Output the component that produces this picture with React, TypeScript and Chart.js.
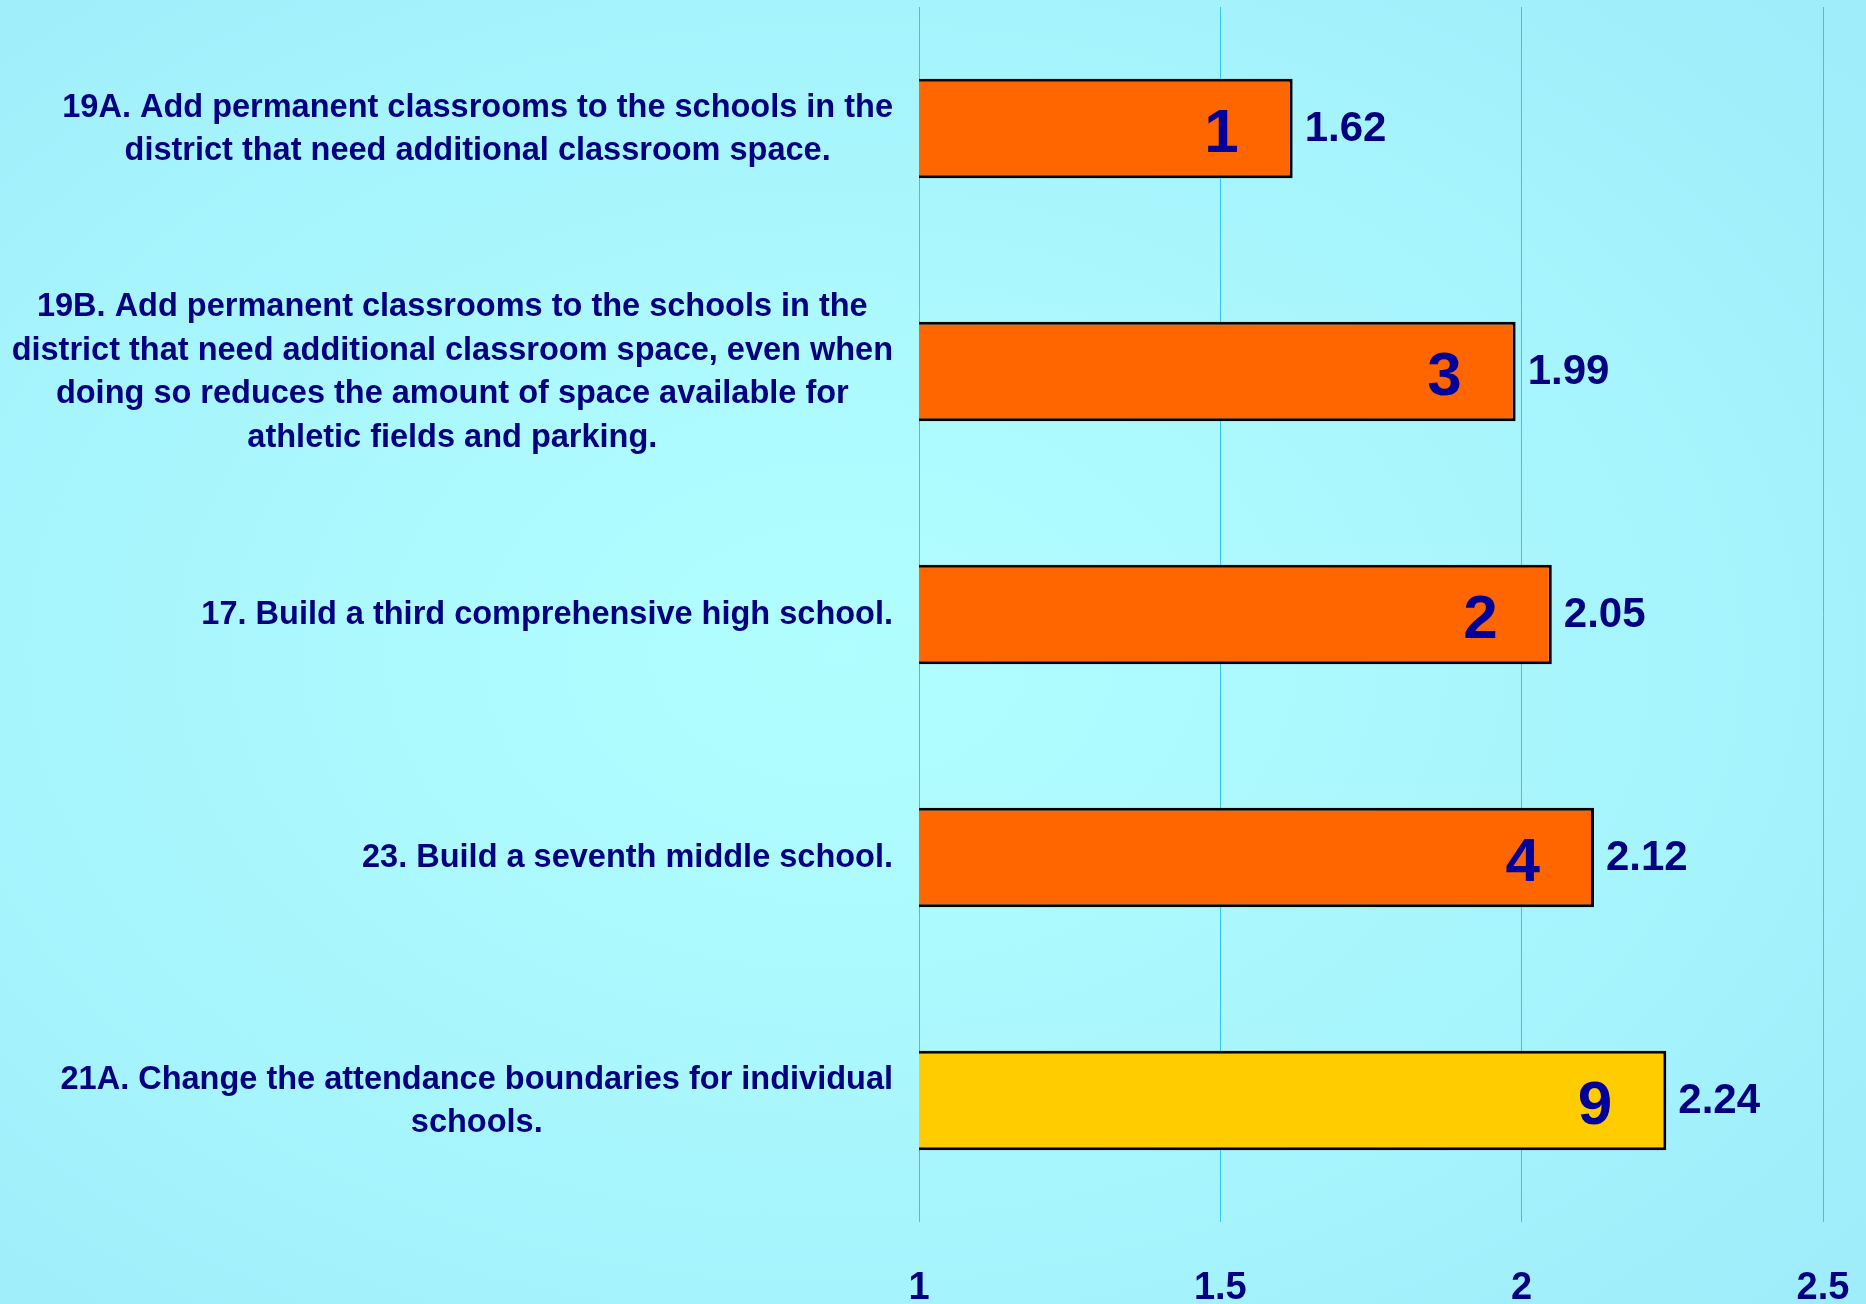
import React, { useEffect, useRef } from "react";
import { Chart, registerables } from "chart.js";

Chart.register(...registerables);

const categories: string[][] = [
  ["19A. Add permanent classrooms to the schools in the", "district that need additional classroom space."],
  [
    "19B. Add permanent classrooms to the schools in the",
    "district that need additional classroom space, even when",
    "doing so reduces the amount of space available for",
    "athletic fields and parking.",
  ],
  ["17. Build a third comprehensive high school."],
  ["23. Build a seventh middle school."],
  ["21A. Change the attendance boundaries for individual", "schools."],
];
const meanScores = [1.62, 1.99, 2.05, 2.12, 2.24];
const ranks = ["1", "3", "2", "4", "9"];
const barColors = ["#FF6600", "#FF6600", "#FF6600", "#FF6600", "#FFCC00"];
const xTickValues = [1, 1.5, 2, 2.5];

const FONT = "'Liberation Sans', Arial, sans-serif";
const NAVY = "#000080";

const labelPlugin = {
  id: "customLabels",
  afterDatasetsDraw(chart: any) {
    const ctx = chart.ctx;
    const yScale = chart.scales.y;
    const area = chart.chartArea;
    const meta = chart.getDatasetMeta(0);
    ctx.save();
    // category labels: block right-aligned, lines centred within block
    ctx.font = `bold 32.5px ${FONT}`;
    ctx.fillStyle = NAVY;
    ctx.textAlign = "center";
    ctx.textBaseline = "middle";
    const lineH = 43.7;
    categories.forEach((lines, i) => {
      const y = yScale.getPixelForValue(i);
      const widest = Math.max(...lines.map((l) => ctx.measureText(l).width));
      const right = area.left - 26;
      const cx = right - widest / 2;
      lines.forEach((l, j) => {
        ctx.fillText(l, cx, y + 1 + (j - (lines.length - 1) / 2) * lineH);
      });
    });
    // value labels and rank numbers
    meta.data.forEach((bar: any, i: number) => {
      const end = bar.x;
      const cy = bar.y;
      ctx.font = `bold 42px ${FONT}`;
      ctx.fillStyle = NAVY;
      ctx.textAlign = "left";
      ctx.textBaseline = "middle";
      ctx.fillText(meanScores[i].toFixed(2), end + 12, cy + 1);
      ctx.font = `bold 62px ${FONT}`;
      ctx.fillStyle = "#000099";
      ctx.textAlign = "right";
      ctx.fillText(ranks[i], end - 54, cy + 6);
    });
    ctx.restore();
  },
};

export default function App() {
  const ref = useRef<HTMLCanvasElement>(null);
  useEffect(() => {
    if (!ref.current) return;
    const chart = new Chart(ref.current, {
      type: "bar",
      data: {
        labels: categories.map((c) => c.join(" ")),
        datasets: [
          {
            data: meanScores,
            backgroundColor: barColors,
            borderColor: "#000000",
            borderWidth: 3,
            borderSkipped: false,
            barPercentage: 0.41,
            categoryPercentage: 1,
          },
        ],
      },
      options: {
        indexAxis: "y",
        animation: false,
        responsive: false,
        maintainAspectRatio: false,
        layout: { padding: { left: 0, right: 43, top: 7, bottom: 0 } },
        plugins: { legend: { display: false }, tooltip: { enabled: false } },
        scales: {
          x: {
            min: 1,
            max: 2.5,
            afterBuildTicks: (scale: any) => {
              scale.ticks = xTickValues.map((v) => ({ value: v }));
            },
            afterFit: (scale: any) => {
              scale.height = 82;
              scale.paddingLeft = 0;
              scale.paddingRight = 0;
            },
            border: { display: false },
            grid: { color: "#33c8ea", lineWidth: 1, drawTicks: false },
            ticks: {
              padding: 44,
              color: NAVY,
              font: { family: FONT, size: 38, weight: "bold" },
              callback: (v: any) => String(v),
              maxRotation: 0,
            },
          },
          y: {
            afterFit: (scale: any) => {
              scale.width = 919;
            },
            border: { display: false },
            grid: { display: false },
            ticks: { display: false },
          },
        },
      },
      plugins: [labelPlugin],
    } as any);
    return () => chart.destroy();
  }, []);
  return (
    <div
      style={{
        position: "fixed",
        left: 0,
        top: 0,
        width: 1866,
        height: 1304,
        background:
          "radial-gradient(ellipse 70% 70% at 45% 50%, #b1feff 0%, #aaf8fd 45%, #9fedfa 100%)",
      }}
    >
      <canvas ref={ref} width={1866} height={1304} style={{ display: "block" }} />
    </div>
  );
}
